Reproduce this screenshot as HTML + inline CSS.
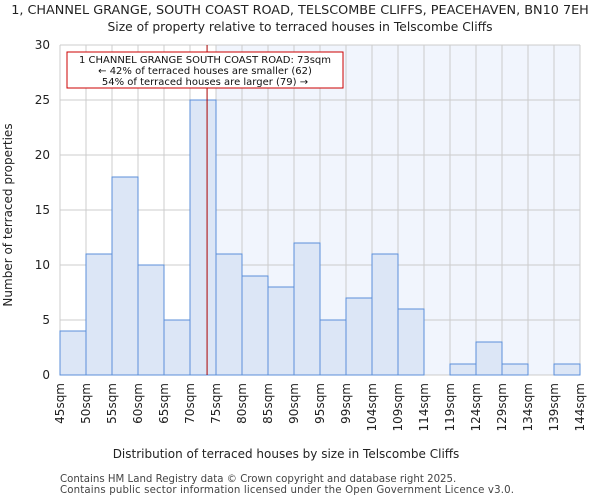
<!DOCTYPE html>
<html><head><meta charset="utf-8"><style>
body{margin:0;background:#fff;font-family:"DejaVu Sans","Liberation Sans",sans-serif;}
svg text{font-family:"DejaVu Sans","Liberation Sans",sans-serif;}
</style></head><body>
<svg id="c" width="600" height="500" xmlns="http://www.w3.org/2000/svg">
<text x="300" y="14" text-anchor="middle" font-size="12.8" fill="#222">1, CHANNEL GRANGE, SOUTH COAST ROAD, TELSCOMBE CLIFFS, PEACEHAVEN, BN10 7EH</text>
<text x="300" y="31" text-anchor="middle" font-size="12.3" fill="#222">Size of property relative to terraced houses in Telscombe Cliffs</text>
<g id="plot"></g>
<text x="286" y="458" text-anchor="middle" font-size="12" fill="#222">Distribution of terraced houses by size in Telscombe Cliffs</text>
<text transform="translate(12,215) rotate(-90)" text-anchor="middle" font-size="12" fill="#222">Number of terraced properties</text>
<text x="60" y="482" font-size="10.2" fill="#444">Contains HM Land Registry data © Crown copyright and database right 2025.</text>
<text x="60" y="493" font-size="10.2" fill="#444" textLength="454">Contains public sector information licensed under the Open Government Licence v3.0.</text>
</svg>
<script>
const categories=["45sqm","50sqm","55sqm","60sqm","65sqm","70sqm","75sqm","80sqm","85sqm","90sqm","95sqm","99sqm","104sqm","109sqm","114sqm","119sqm","124sqm","129sqm","134sqm","139sqm","144sqm"];
const counts=[4,11,18,10,5,25,11,9,8,12,5,7,11,6,0,1,3,1,0,1];
const yTicks=[0,5,10,15,20,25,30];
const markerValue=73;
const highlightStartBin=6;
const NS="http://www.w3.org/2000/svg";
const g=document.getElementById('plot');
const x0=60,x1=580,yTop=45,yBot=375,yMax=30;
const bw=(x1-x0)/counts.length;
const xs=i=>x0+i*bw;
const ys=v=>yBot-(v/yMax)*(yBot-yTop);
function mk(t,a){const e=document.createElementNS(NS,t);for(const k in a)e.setAttribute(k,a[k]);g.appendChild(e);return e;}
let e=mk('rect',{x:xs(highlightStartBin),y:yTop,width:x1-xs(highlightStartBin),height:yBot-yTop,fill:'#f1f5fd'});


for(let i=0;i<=counts.length;i++){e=mk('line',{x1:xs(i),x2:xs(i),y1:yTop,y2:yBot,stroke:'#cccccc','stroke-width':1});

}
yTicks.forEach(v=>{e=mk('line',{x1:x0,x2:x1,y1:ys(v),y2:ys(v),stroke:'#cccccc','stroke-width':1});


e=mk('text',{x:x0-10,y:ys(v)+4,'text-anchor':'end','font-size':12,fill:'#222'});e.textContent=v;

});
counts.forEach((c,i)=>{if(c<=0)return;e=mk('rect',{x:xs(i),y:ys(c),width:bw,height:yBot-ys(c),fill:'#dce6f6',stroke:'#5b8fd9','stroke-width':1});

});
categories.forEach((c,i)=>{const tx=xs(i)+4;e=mk('text',{transform:`translate(${tx},${yBot+8}) rotate(-90)`,'text-anchor':'end','font-size':12,fill:'#222'});e.textContent=c;

});
const binStart=45,binW=(144-45)/(categories.length-1);
const mx=x0+(markerValue-binStart)/binW*bw;
e=mk('line',{x1:mx,x2:mx,y1:yTop,y2:yBot,stroke:'#aa0000','stroke-width':1});


e=mk('rect',{x:67,y:52,width:276,height:36,fill:'#fff',stroke:'#cc0000','stroke-width':1});


["1 CHANNEL GRANGE SOUTH COAST ROAD: 73sqm","← 42% of terraced houses are smaller (62)","54% of terraced houses are larger (79) →"].forEach((t,i)=>{e=mk('text',{x:205,y:63+i*11,'text-anchor':'middle','font-size':10,fill:'#111'});e.textContent=t;

});
</script>
</body></html>
